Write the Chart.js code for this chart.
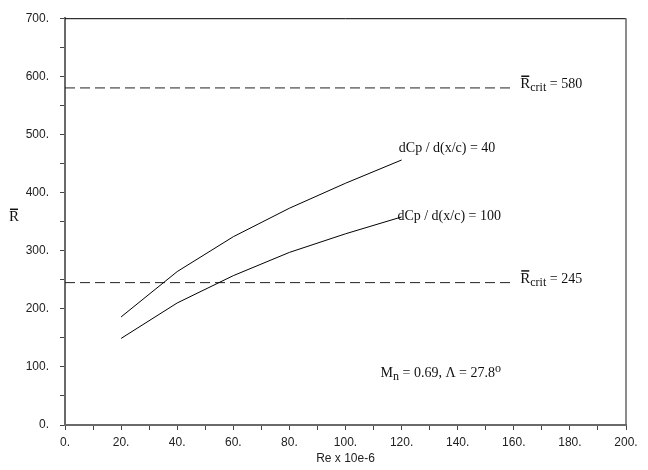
<!DOCTYPE html>
<html>
<head>
<meta charset="utf-8">
<script src="https://cdn.jsdelivr.net/npm/chart.js@4/dist/chart.umd.min.js"></script>
<style>
  html, body { margin: 0; padding: 0; background: #fff; }
  #wrap { width: 648px; height: 470px; }
</style>
</head>
<body>
<div id="wrap"><canvas id="rbarChart" width="648" height="470"></canvas></div>
<script>
// Reynolds number (x 10e-6) at which each curve was computed
const reValues = [20, 40, 60, 80, 100, 120];
// R-bar for dCp / d(x/c) = 40 and = 100
const rBarGrad40 = [186, 264, 324, 373, 416, 456];
const rBarGrad100 = [149, 210, 257, 297, 329, 358];
// critical R-bar levels and the Re range the dashed lines cover
const rCritLevels = [580, 245];
const rCritReRange = [0, 160];

const serif = '"Liberation Serif", "Times New Roman", serif';
const sans = '"Liberation Sans", Arial, sans-serif';

function toPoints(xs, ys) {
  return xs.map((x, i) => ({ x: x, y: ys[i] }));
}

const curveStyle = { showLine: true, borderColor: '#000', borderWidth: 1, pointRadius: 0, tension: 0, fill: false };

const datasets = [
  Object.assign({ label: 'dCp / d(x/c) = 40', data: toPoints(reValues, rBarGrad40) }, curveStyle),
  Object.assign({ label: 'dCp / d(x/c) = 100', data: toPoints(reValues, rBarGrad100) }, curveStyle)
];
rCritLevels.forEach(level => {
  datasets.push(Object.assign({
    label: 'R crit = ' + level,
    data: rCritReRange.map(re => ({ x: re, y: level })),
  }, curveStyle, { borderColor: '#222', borderDash: [10, 5] }));
});

// draw R with a bar over it, returns the x after the text
function drawRBar(ctx, x, y, size) {
  ctx.font = size + 'px ' + serif;
  ctx.fillText('R', x, y);
  const w = ctx.measureText('R').width;
  ctx.beginPath();
  ctx.lineWidth = 1.5;
  ctx.moveTo(x + 1, y - size * 0.78);
  ctx.lineTo(x + w - 1, y - size * 0.78);
  ctx.stroke();
  return x + w;
}

// free text on the plot: curve labels, critical levels, flow conditions
const annotations = {
  id: 'annotations',
  afterDraw(chart) {
    const { ctx, chartArea: { left, right, top, bottom }, scales: { x, y } } = chart;
    ctx.save();
    // frame: black top edge, grey right edge
    ctx.strokeStyle = '#000';
    ctx.lineWidth = 1;
    ctx.beginPath();
    ctx.moveTo(left, top + 0.5);
    ctx.lineTo(right, top + 0.5);
    ctx.stroke();
    ctx.strokeStyle = '#666';
    ctx.lineWidth = 1.5;
    ctx.beginPath();
    ctx.moveTo(right, top);
    ctx.lineTo(right, bottom);
    ctx.stroke();

    ctx.fillStyle = '#111';
    ctx.strokeStyle = '#111';
    ctx.textBaseline = 'alphabetic';
    ctx.textAlign = 'left';

    ctx.font = '14px ' + serif;
    ctx.fillText('dCp / d(x/c) = 40', x.getPixelForValue(119), y.getPixelForValue(469));
    ctx.fillText('dCp / d(x/c) = 100', x.getPixelForValue(118.5), y.getPixelForValue(352));

    rCritLevels.forEach(level => {
      let px = x.getPixelForValue(162.3);
      const py = y.getPixelForValue(level);
      px = drawRBar(ctx, px, py, 15);
      ctx.font = '12px ' + serif;
      ctx.fillText('crit', px, py + 3);
      px += ctx.measureText('crit').width;
      ctx.font = '14px ' + serif;
      ctx.fillText(' = ' + level, px, py);
    });

    // Mn = 0.69, Lambda = 27.8 deg
    let mx = x.getPixelForValue(112.5);
    const my = y.getPixelForValue(82);
    ctx.font = '14px ' + serif;
    ctx.fillText('M', mx, my);
    mx += ctx.measureText('M').width;
    ctx.font = '12px ' + serif;
    ctx.fillText('n', mx, my + 3);
    mx += ctx.measureText('n').width;
    ctx.font = '14px ' + serif;
    ctx.fillText(' = 0.69, \u039B = 27.8', mx, my);
    mx += ctx.measureText(' = 0.69, \u039B = 27.8').width;
    ctx.font = '12px ' + serif;
    ctx.fillText('o', mx, my - 5);

    // y axis title
    drawRBar(ctx, 9, 221, 15);
    ctx.restore();
  }
};

new Chart(document.getElementById('rbarChart'), {
  type: 'scatter',
  data: { datasets: datasets },
  options: {
    responsive: false,
    animation: false,
    layout: { padding: { top: 12, right: 22, left: 0, bottom: 0 } },
    plugins: { legend: { display: false }, tooltip: { enabled: false } },
    scales: {
      x: {
        type: 'linear',
        min: 0,
        max: 200,
        afterFit: scale => { scale.height = 45; },
        border: { color: '#6a6a6a', width: 2 },
        grid: { drawOnChartArea: false, tickLength: 5, tickColor: '#444', tickWidth: 1 },
        ticks: {
          stepSize: 10,
          autoSkip: false,
          maxRotation: 0,
          padding: 5,
          color: '#222',
          font: { family: sans, size: 12 },
          callback: v => (v % 20 === 0 ? v + '.' : '')
        },
        title: {
          display: true,
          text: 'Re x 10e-6',
          color: '#222',
          font: { family: sans, size: 12 },
          padding: { top: 0, bottom: 4 }
        }
      },
      y: {
        type: 'linear',
        min: 0,
        max: 700,
        afterFit: scale => { scale.width = 65; },
        border: { color: '#6a6a6a', width: 2 },
        grid: { drawOnChartArea: false, tickLength: 5, tickColor: '#444', tickWidth: 1 },
        ticks: {
          stepSize: 50,
          autoSkip: false,
          padding: 11,
          color: '#222',
          font: { family: sans, size: 12 },
          callback: v => (v % 100 === 0 ? v + '.' : '')
        }
      }
    }
  },
  plugins: [annotations]
});
</script>
</body>
</html>
